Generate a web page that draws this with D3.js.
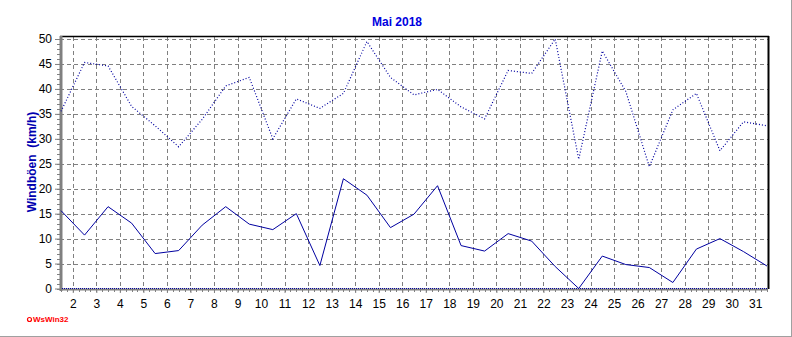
<!DOCTYPE html>
<html>
<head>
<meta charset="utf-8">
<script src="https://cdn.jsdelivr.net/npm/d3@7"></script>
<style>
  html, body { margin: 0; padding: 0; background: #fff; }
  svg { display: block; font-family: "Liberation Sans", Arial, sans-serif; }
</style>
</head>
<body>
<svg id="chart" width="792" height="337"></svg>
<script>
// Tage (Messpunkte jeweils zur Tagesmitte)
const days = [1.5, 2.5, 3.5, 4.5, 5.5, 6.5, 7.5, 8.5, 9.5, 10.5, 11.5, 12.5, 13.5, 14.5, 15.5, 16.5,
  17.5, 18.5, 19.5, 20.5, 21.5, 22.5, 23.5, 24.5, 25.5, 26.5, 27.5, 28.5, 29.5, 30.5, 31.5]

// Windböen max (gepunktet)
const gustMax = [35.5, 45.3, 44.6, 36.5, 32.6, 28.4, 33.9, 40.6, 42.3, 30.0, 38.0, 36.1, 39.1, 49.5, 42.3, 38.8,
  39.9, 36.4, 34.0, 43.7, 43.1, 50.0, 25.9, 47.6, 39.5, 24.4, 35.8, 39.1, 27.6, 33.4, 32.6]

// Windböen min (durchgezogen)
const gustMin = [15.6, 10.7, 16.4, 13.1, 7.0, 7.6, 12.7, 16.4, 12.9, 11.8, 15.0, 4.6, 22.0, 18.7, 12.2, 14.9,
  20.6, 8.6, 7.5, 11.0, 9.5, 4.4, 0.0, 6.5, 4.8, 4.2, 1.2, 7.9, 10.0, 7.4, 4.5]

const dayTicks = d3.range(2, 32)
const valueTicks = [0, 5, 10, 15, 20, 25, 30, 35, 40, 45, 50]

const svg = d3.select("#chart")
const plotLeft = 60, plotRight = 768, plotTop = 37, plotBottom = 289

const x = d3.scaleLinear().domain([1.5, 31.5]).range([plotLeft + 1, plotRight - 1])
const y = d3.scaleLinear().domain([0, 50]).range([288.5, 39])

// outer frame (right + bottom edge only)
svg.append("line").attr("x1", 791.5).attr("x2", 791.5).attr("y1", 0).attr("y2", 337)
  .attr("stroke", "#a0a0a0")
svg.append("line").attr("x1", 0).attr("x2", 792).attr("y1", 336.5).attr("y2", 336.5)
  .attr("stroke", "#a0a0a0")

// grid
const grid = svg.append("g").attr("stroke", "#808080").attr("stroke-dasharray", "4,3")
grid.selectAll(".gx").data(dayTicks).enter().append("line")
  .attr("x1", d => Math.round(x(d)) + 0.5).attr("x2", d => Math.round(x(d)) + 0.5)
  .attr("y1", plotTop).attr("y2", plotBottom)
grid.selectAll(".gy").data(valueTicks.filter(v => v > 0)).enter().append("line")
  .attr("x1", plotLeft).attr("x2", plotRight)
  .attr("y1", d => Math.round(y(d)) + 0.5).attr("y2", d => Math.round(y(d)) + 0.5)

// plot border top/right
svg.append("line").attr("x1", plotLeft).attr("x2", plotRight + 1).attr("y1", 36.5).attr("y2", 36.5)
  .attr("stroke", "#000").attr("stroke-width", 1.5)
svg.append("line").attr("x1", plotRight + 0.5).attr("x2", plotRight + 0.5).attr("y1", 36).attr("y2", plotBottom)
  .attr("stroke", "#000").attr("stroke-width", 2)

// y axis
const yAxis = d3.axisLeft(y).tickValues(valueTicks).tickSize(5).tickPadding(3)
const gy = svg.append("g").attr("transform", `translate(${plotLeft},0)`).call(yAxis)
gy.select(".domain").remove()
gy.selectAll(".tick line").attr("stroke", "#808080")
gy.selectAll(".tick text").attr("font-size", 12).attr("fill", "#000")
  .attr("font-family", "Liberation Sans, Arial, sans-serif")
gy.selectAll(".minor").data(d3.range(0, 51)).enter().append("line")
  .attr("x1", -3).attr("x2", 0)
  .attr("y1", d => Math.round(y(d)) + 0.5).attr("y2", d => Math.round(y(d)) + 0.5)
  .attr("stroke", "#808080")
svg.append("line").attr("x1", 61).attr("x2", 61).attr("y1", 36).attr("y2", 291)
  .attr("stroke", "#808080").attr("stroke-width", 3)

// x axis
const xAxis = d3.axisBottom(x).tickValues(dayTicks).tickSize(4).tickPadding(6)
  .tickFormat(d3.format("d"))
const gx = svg.append("g").attr("transform", `translate(0,${plotBottom})`).call(xAxis)
gx.select(".domain").remove()
gx.selectAll(".tick line").attr("stroke", "#808080")
gx.selectAll(".tick text").attr("font-size", 12).attr("fill", "#000")
  .attr("font-family", "Liberation Sans, Arial, sans-serif")
gx.selectAll(".minor").data(d3.range(1.5, 31.51, 0.25)).enter().append("line")
  .attr("x1", d => Math.round(x(d)) + 0.5).attr("x2", d => Math.round(x(d)) + 0.5)
  .attr("y1", 0).attr("y2", 3)
  .attr("stroke", "#808080")
svg.append("line").attr("x1", plotLeft).attr("x2", plotRight).attr("y1", 289.5).attr("y2", 289.5)
  .attr("stroke", "#808080").attr("stroke-width", 2)
svg.append("line").attr("x1", 62).attr("x2", plotRight).attr("y1", 288.5).attr("y2", 288.5)
  .attr("stroke", "#0000a0").attr("stroke-dasharray", "1,1")

// series
const line = d3.line().x((d, i) => x(days[i])).y(d => y(d))
svg.append("path").datum(gustMax).attr("d", line)
  .attr("fill", "none").attr("stroke", "#0000a0").attr("stroke-width", 1.2)
  .attr("stroke-dasharray", "1,2")
svg.append("path").datum(gustMin).attr("d", line)
  .attr("fill", "none").attr("stroke", "#0000a0").attr("stroke-width", 1)

// titles
svg.append("text").attr("x", 397).attr("y", 26).attr("text-anchor", "middle")
  .attr("font-size", 12).attr("font-weight", "bold").attr("fill", "#0000e0")
  .text("Mai 2018")
svg.append("text").attr("transform", "translate(36,162) rotate(-90)")
  .attr("text-anchor", "middle").attr("font-size", 12).attr("font-weight", "bold")
  .attr("fill", "#0000b0").attr("xml:space", "preserve")
  .text("Windböen  (km/h)")

// copyright
svg.append("circle").attr("cx", 29.5).attr("cy", 319.5).attr("r", 2)
  .attr("fill", "none").attr("stroke", "#f00").attr("stroke-width", 1.2)
svg.append("text").attr("x", 33).attr("y", 322).attr("font-size", 8).attr("font-weight", "bold")
  .attr("fill", "#f00").text("WsWin32")
</script>
</body>
</html>
